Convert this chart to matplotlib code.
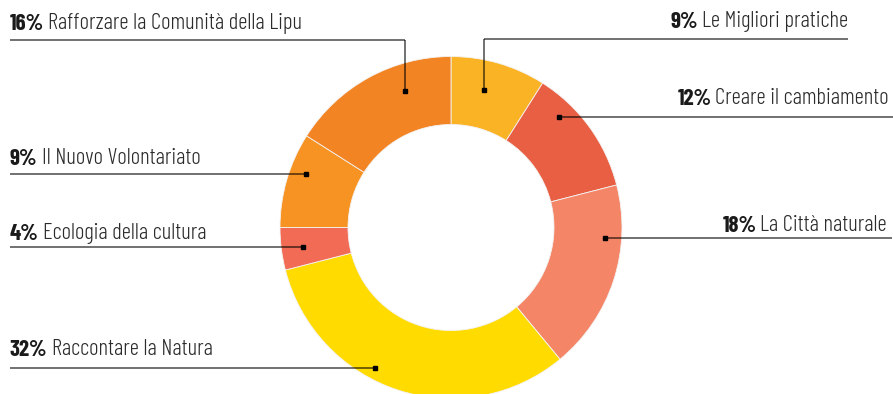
import numpy as np
import matplotlib
matplotlib.use("Agg")
import matplotlib.pyplot as plt
from matplotlib import font_manager

# data, clockwise from 12 o'clock
labels = ["Le Migliori pratiche", "Creare il cambiamento", "La Città naturale",
          "Raccontare la Natura", "Ecologia della cultura", "Il Nuovo Volontariato",
          "Rafforzare la Comunità della Lipu"]
values = [9, 12, 18, 32, 4, 9, 16]
colors = ["#FBB326", "#E95F44", "#F48567", "#FFDB00", "#F26C55", "#F69322", "#F38423"]

W, H = 893, 394
names = {f.name for f in font_manager.fontManager.ttflist}
sizes = {"Barlow Condensed": 16.5, "Fira Sans Extra Condensed": 16, "DejaVu Sans": 14}
fam = [n for n in ["Barlow Condensed", "Fira Sans Extra Condensed", "DejaVu Sans"] if n in names]
plt.rcParams["font.family"] = fam
fs = sizes[fam[0]]

fig = plt.figure(figsize=(W / 100, H / 100), dpi=100)
ax = fig.add_axes([0, 0, 1, 1])

cx, cy, R, ring = 451, H - 227.5, 171, 68
ax.pie(values, colors=colors, startangle=90, counterclock=False, radius=R,
       center=(cx, cy), wedgeprops=dict(width=ring, edgecolor="#f3f3f3", linewidth=0.6))
ax.set_xlim(0, W)
ax.set_ylim(0, H)
ax.set_aspect("equal")
ax.axis("off")

# label layout (pixels from top-left): kind, text x, baseline, line y, line end / vertical x, dot radius
layout = {
    "Le Migliori pratiche": ("top", 848, 27, 39.3, 484.3, 141),
    "Creare il cambiamento": ("right", 889, 104, 116.7, 893, 154.7),
    "La Città naturale": ("right", 887, 230.5, 237.7, 892, 154.8),
    "Raccontare la Natura": ("left", 10, 356, 368.3, 10, 160),
    "Ecologia della cultura": ("left", 10, 240, 246.7, 10, 149.7),
    "Il Nuovo Volontariato": ("left", 10, 165, 174, 10, 154.5),
    "Rafforzare la Comunità della Lipu": ("topleft", 10, 30, 40, 405.3, 144),
}

line_kw = dict(color="black", alpha=0.6, lw=1.3, solid_capstyle="butt", zorder=3)
for lab, val in zip(labels, values):
    kind, tx, base, ly, lx, r = layout[lab]
    ty, ly = H - base, H - ly
    pct = f"{val}%"
    if kind in ("left", "topleft"):
        b = ax.text(tx, ty, pct, fontsize=fs, fontweight="bold", color="#1a1a1a",
                    ha="left", va="baseline")
        ax.annotate(lab, xy=(1, 0), xycoords=b, xytext=(4, 0), textcoords="offset pixels",
                    fontsize=fs, fontweight=300, color="#2b2b2b", ha="left", va="bottom")
    else:
        t = ax.text(tx, ty, lab, fontsize=fs, fontweight=300, color="#2b2b2b",
                    ha="right", va="baseline")
        ax.annotate(pct, xy=(0, 0), xycoords=t, xytext=(-4, 0), textcoords="offset pixels",
                    fontsize=fs, fontweight="bold", color="#1a1a1a", ha="right", va="bottom")

    if kind in ("top", "topleft"):
        dx = lx - cx
        dy = np.sqrt(r ** 2 - dx ** 2)
        px, py = lx, cy + dy
        x0 = tx if kind == "topleft" else lx
        x1 = lx if kind == "topleft" else tx
        ax.plot([x0, x1], [ly, ly], **line_kw)
        ax.plot([lx, lx], [ly, py], **line_kw)
    else:
        dy = ly - cy
        dx = np.sqrt(r ** 2 - dy ** 2)
        px = cx + dx if kind == "right" else cx - dx
        py = ly
        ax.plot([px, lx], [ly, ly], **line_kw)
    ax.plot(px, py, marker="s", ms=2.6, color="black", zorder=4)

fig.savefig("out.png", dpi=100)
